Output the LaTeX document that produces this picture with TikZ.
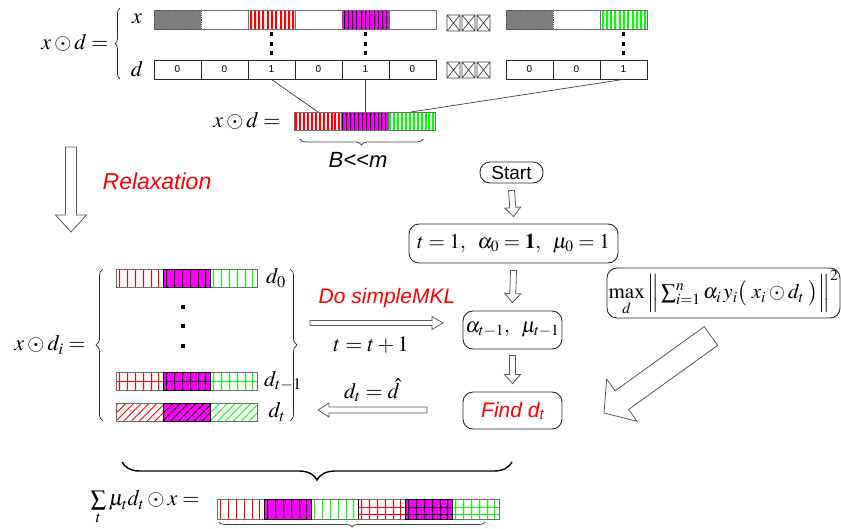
\documentclass[tikz,border=0pt]{standalone}
\usepackage{mathptmx}
\usepackage[no-math]{fontspec}
\setsansfont{Liberation Sans}
\usetikzlibrary{calc,decorations.pathreplacing}
\definecolor{mred}{RGB}{255,0,0}
\definecolor{mmag}{RGB}{255,0,255}
\definecolor{mgreen}{RGB}{0,255,0}
\definecolor{bord}{RGB}{110,110,110}
\definecolor{ink}{RGB}{40,40,40}
\definecolor{dotgray}{RGB}{125,125,125}
\newcommand\fsz[1]{\fontsize{#1}{#1}\selectfont}
% vertical stripes (pixel-snapped filled rectangles) in a 47-wide segment: x0,y0,y1,color,spacing,width
\newcommand\vstripes[6]{%
  \begin{scope}
    \clip (#1,#2) rectangle ({#1+47},#3);
    \fill[#4] \foreach \k in {0,...,16}{({floor(#1+(\k+0.5)*#5)},#2) rectangle ({floor(#1+(\k+0.5)*#5)+#6},#3)};
  \end{scope}}
% diagonal stripes
\newcommand\dstripes[6]{%
  \begin{scope}
    \clip (#1,#2) rectangle ({#1+47},#3);
    \draw[#4,line width=#6] \foreach \k in {-4,...,8}{({#1+\k*#5},#3) -- ({#1+\k*#5+#3-#2},#2)};
  \end{scope}}
% horizontal line across a segment: x0,y,color
\newcommand\hstripe[3]{\fill[#3] (#1,#2) rectangle ({#1+47},{#2+1});}
% gray dotted segment
\newcommand\grayseg[3]{%
  \fill[dotgray] (#1,#2) rectangle ({#1+47},#3);
  \draw[black!70,line width=0.8pt,densely dotted] (#1,#2) rectangle ({#1+47},#3);}
% block (hollow) arrow: tail, tip, half shaft, half head, head length
\newcommand\blockarrow[5]{%
  \path ($(#2)!#5!(#1)$) coordinate (ba-base);
  \draw[blockarr] ($(#1)!#3!90:(#2)$) -- ($(ba-base)!#3!90:(#2)$) -- ($(ba-base)!#4!90:(#2)$)
    -- (#2) -- ($(ba-base)!#4!-90:(#2)$) -- ($(ba-base)!#3!-90:(#2)$) -- ($(#1)!#3!-90:(#2)$) -- cycle;}
\tikzset{
  mathlbl/.style={inner sep=0pt,font=\fsz{22}},
  cell/.style={draw=ink,line width=0.8pt,minimum width=47pt,minimum height=19pt,inner sep=0pt,font=\sffamily\fsz{10}},
  flowbox/.style={draw=ink,line width=0.9pt,rounded corners=10pt,inner sep=0pt,font=\fsz{21}},
  blockarr/.style={draw=black!65,line width=0.8pt,fill=white,line join=miter},
  brc/.style={decorate,decoration={brace,amplitude=#1}},
  conn/.style={draw=black!75,line width=0.7pt},
  redtxt/.style={inner sep=0pt,text=mred,font=\sffamily\itshape\fsz{21}},
  dotsq/.style={fill=black},
}
\begin{document}
\begin{tikzpicture}[x=1pt,y=-1pt]
\useasboundingbox (0,0) rectangle (841,528);
\fill[white] (0,0) rectangle (841,528);

%% ---------- top block ----------
\node[mathlbl] (topeq) at (75,43) {$x\odot d=$};
\draw[brc=5,line width=0.7pt,ink] (120,79) -- (120,8);
\node[mathlbl] (xlab) at (137,19) {$x$};
\node[mathlbl] (dlab) at (137,69) {$d$};

% x bar 1
\draw[bord,line width=0.8pt] (154,10) rectangle (436,29);
\grayseg{154}{10}{29}
\vstripes{248}{10}{29}{mred}{4.27}{2}
\draw[bord,line width=0.8pt] (248,10) rectangle (295,29);
\fill[mmag] (342,10) rectangle (389,29);
\vstripes{342}{10}{29}{black}{4.27}{1}
\draw[bord,line width=0.8pt] (342,10) rectangle (389,29);
% x bar 2
\draw[bord,line width=0.8pt] (506,10) rectangle (647,29);
\grayseg{506}{10}{29}
\vstripes{600}{10}{29}{mgreen}{4.27}{2}
\draw[bord,line width=0.8pt] (600,10) rectangle (647,29);

% d cells
\node[cell] (d1) at (177.5,69.5) {0};
\node[cell] (d2) at (224.5,69.5) {0};
\node[cell] (d3) at (271.5,69.5) {1};
\node[cell] (d4) at (318.5,69.5) {0};
\node[cell] (d5) at (365.5,69.5) {1};
\node[cell] (d6) at (412.5,69.5) {0};
\node[cell] (e1) at (529.5,69.5) {0};
\node[cell] (e2) at (576.5,69.5) {0};
\node[cell] (e3) at (623.5,69.5) {1};

% vertical dots
\foreach \dx in {271.5,365.5,623.5}{
  \foreach \dy in {34,44,53}{\fill[dotsq] (\dx-1.8,\dy-1.8) rectangle (\dx+1.8,\dy+1.8);}}

% crossed boxes
\foreach \bx in {447,462,477}{
  \foreach \by in {15,62}{
    \draw[black!75,line width=0.7pt] (\bx,\by) rectangle (\bx+13,\by+16) (\bx,\by) -- (\bx+13,\by+16) (\bx+13,\by) -- (\bx,\by+16);}}

% combined bar
\vstripes{294}{112}{130}{mred}{3.9}{2}
\fill[mmag] (341,112) rectangle (388,130);
\vstripes{341}{112}{130}{black}{3.9}{1}
\vstripes{388}{112}{130}{mgreen}{3.9}{2}
\draw[bord,line width=0.8pt] (294,112) rectangle (435,130) (341,112) -- (341,130) (388,112) -- (388,130);
\coordinate (c1) at (318,112);
\coordinate (c2) at (365.5,112);
\coordinate (c3) at (411,112);
\draw[conn] (d3.south) -- (c1);
\draw[conn] (d5.south) -- (c2);
\draw[conn] (e3.south) -- (c3);
\node[mathlbl] (mideq) at (247,121) {$x\odot d=$};
\draw[brc=6,line width=0.8pt,black!70] (423,139) -- (300,139);
\node[inner sep=0pt,font=\sffamily\itshape\fsz{22}] (blm) at (358,160) {B<{}<m};

%% ---------- relaxation ----------
\coordinate (rxt) at (71,147);
\coordinate (rxh) at (71,232);
\blockarrow{rxt}{rxh}{5.5pt}{15.5pt}{17pt}
\node[redtxt,font=\sffamily\itshape\fsz{23}] (relax) at (157,181) {Relaxation};

%% ---------- flow chart ----------
\node[flowbox,font=\sffamily\fsz{19},minimum width=63pt,minimum height=21pt] (start) at (511.5,172.5) {Start};
\node[flowbox,minimum width=209pt,minimum height=39pt] (init) at (513.5,243.5)
  {$t=1,\;\; \alpha_{0}=\mathbf{1},\;\; \mu_{0}=1$};
\node[flowbox,minimum width=99pt,minimum height=38pt] (alpha) at (512.5,330) {$\alpha_{t-1},\;\;\mu_{t-1}$};
\node[flowbox,minimum width=99pt,minimum height=37pt,text=mred,font=\sffamily\itshape\fsz{21}] (find) at (512.5,410.5)
  {Find d\raisebox{-2pt}{\fsz{15}t}};
\node[flowbox,minimum width=233pt,minimum height=50pt,font=\fsz{21}] (maxb) at (723.5,293)
  {$\max\limits_{d}\Big\|\textstyle\sum_{i=1}^{n}\alpha_{i}\,y_{i}\big(\;x_{i}\odot d_{t}\;\big)\Big\|^{2}$};

\coordinate (a1t) at ($(start.south)+(0,7)$);
\coordinate (a1h) at ($(init.north)+(0,-7)$);
\blockarrow{a1t}{a1h}{3pt}{8pt}{9pt}
\coordinate (a2t) at ($(init.south)+(0,7)$);
\coordinate (a2h) at ($(alpha.north)+(0,-8)$);
\blockarrow{a2t}{a2h}{3pt}{8pt}{9pt}
\coordinate (a3t) at ($(alpha.south)+(0,6)$);
\coordinate (a3h) at ($(find.north)+(0,-8)$);
\blockarrow{a3t}{a3h}{3pt}{8pt}{9pt}

\coordinate (bgt) at (711,336);
\coordinate (bgh) at (604,413);
\blockarrow{bgt}{bgh}{11.5pt}{26pt}{22pt}

%% ---------- left block ----------
\node[mathlbl] (lefteq) at (50,345) {$x\odot d_{i}=$};
\draw[brc=7,line width=0.7pt,ink] (103,421) -- (103,269);
\draw[brc=7,line width=0.7pt,ink] (290,269) -- (290,421);

% d0 bar
\vstripes{116}{269}{287}{mred}{7.8}{1}
\fill[mmag] (163,269) rectangle (210,287);
\vstripes{163}{269}{287}{black}{7.8}{1}
\vstripes{210}{269}{287}{mgreen}{7.8}{1}
\draw[bord,line width=0.9pt] (116,269) rectangle (257,287);
\draw[black,line width=0.9pt] (163,269) rectangle (210,287);
% dots
\foreach \dy in {307,326,346}{\fill[dotsq] (181,\dy-2) rectangle (185,\dy+2);}
% d_{t-1} bar
\vstripes{116}{372}{390}{mred}{7.8}{1}
\hstripe{116}{381}{mred}
\fill[mmag] (163,372) rectangle (210,390);
\vstripes{163}{372}{390}{black}{7.8}{1}
\hstripe{163}{381}{black}
\vstripes{210}{372}{390}{mgreen}{7.8}{1}
\hstripe{210}{381}{mgreen}
\draw[bord,line width=0.9pt] (116,372) rectangle (257,390);
\draw[black,line width=0.9pt] (163,372) rectangle (210,390);
% d_t bar
\dstripes{116}{403}{421}{mred}{7.8}{0.9pt}
\fill[mmag] (163,403) rectangle (210,421);
\dstripes{163}{403}{421}{black}{7.8}{0.9pt}
\dstripes{210}{403}{421}{mgreen}{7.8}{0.9pt}
\draw[bord,line width=0.9pt] (116,403) rectangle (257,421);
\draw[black,line width=0.9pt] (163,403) rectangle (210,421);

\node[mathlbl] (l0) at (276,278) {$d_{0}$};
\node[mathlbl] (l1) at (283,381) {$d_{t-1}$};
\node[mathlbl] (l2) at (277,412) {$d_{t}$};

% arrows between blocks
\coordinate (mt) at (310,323);
\coordinate (mh) at (443,323);
\blockarrow{mt}{mh}{2.5pt}{6.5pt}{11pt}
\coordinate (bt) at (427,410);
\coordinate (bh) at (318,410);
\blockarrow{bt}{bh}{3pt}{7pt}{11pt}
\node[redtxt] (simple) at (387,298) {Do simpleMKL};
\node[mathlbl] (tinc) at (371,345) {$t=t+1$};
\node[mathlbl] (dhat) at (372,390) {$d_{t}=\hat{d}$};

%% ---------- bottom ----------
\draw[brc=18,line width=1.4pt,black] (512,462) -- (122,462);
\node[mathlbl] (sumeq) at (145,508) {$\textstyle\sum\limits_{t}\mu_{t}d_{t}\odot x=$};
\vstripes{217}{499}{519}{mred}{7.8}{1}
\fill[mmag] (264,499) rectangle (311,519);
\vstripes{264}{499}{519}{black}{7.8}{1}
\vstripes{311}{499}{519}{mgreen}{7.8}{1}
\vstripes{358}{499}{519}{mred}{7.8}{1}
\hstripe{358}{507}{mred}\hstripe{358}{514}{mred}
\fill[mmag] (405,499) rectangle (452,519);
\vstripes{405}{499}{519}{black}{7.8}{1}
\hstripe{405}{507}{black}\hstripe{405}{514}{black}
\vstripes{452}{499}{519}{mgreen}{7.8}{1}
\hstripe{452}{507}{mgreen}\hstripe{452}{514}{mgreen}
\draw[bord,line width=0.9pt] (217,499) rectangle (499,519);
\draw[black,line width=0.9pt] (264,499) rectangle (311,519) (405,499) rectangle (452,519) (358,499) -- (358,519);
\draw[brc=5,line width=0.8pt,black!70] (485,522) -- (219,522);
\end{tikzpicture}
\end{document}
